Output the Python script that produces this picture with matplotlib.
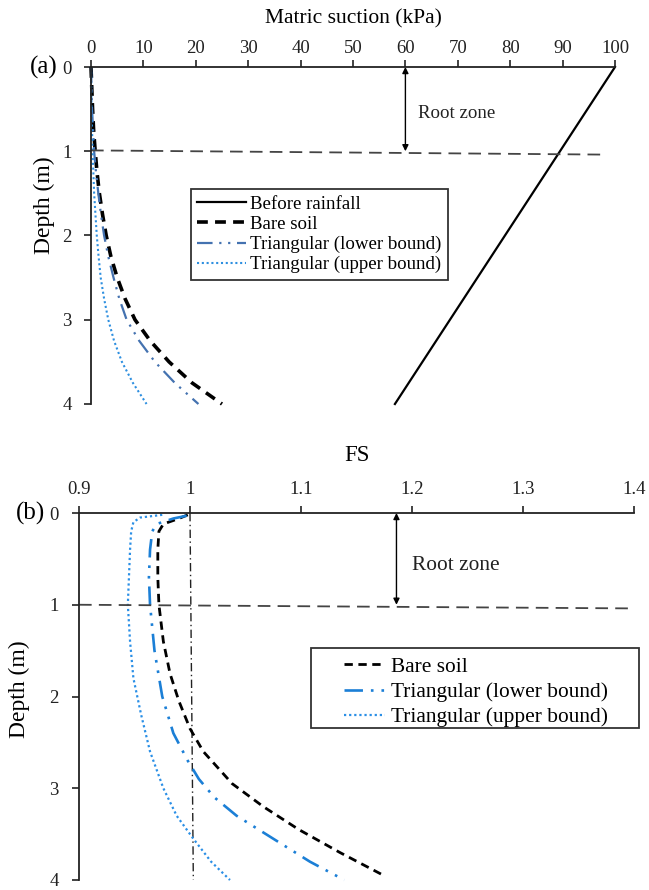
import matplotlib
matplotlib.use("Agg")
import matplotlib.pyplot as plt
from matplotlib.patches import Rectangle

plt.rcParams['font.family'] = ['Liberation Serif', 'DejaVu Serif']

# ---- (a) matric suction profiles ----
depth_a = [0, 0.25, 0.5, 0.75, 1.0, 1.25, 1.5, 1.75, 2.0, 2.25, 2.5, 2.75, 3.0, 3.25, 3.5, 3.75, 4.0]
before_depth = [0, 4]
before_suction = [100, 58]
bare_a = [0, 0.15, 0.3, 0.5, 0.8, 1.15, 1.6, 2.2, 2.9, 3.8, 5.0, 6.5, 8.4, 11.3, 14.9, 19.3, 25.0]
lower_a = [0, 0.1, 0.2, 0.4, 0.6, 0.95, 1.4, 1.9, 2.5, 3.3, 4.3, 5.4, 6.8, 9.2, 12.2, 16.0, 20.5]
upper_a = [0, 0.05, 0.1, 0.2, 0.3, 0.45, 0.6, 0.85, 1.1, 1.45, 1.85, 2.5, 3.3, 4.4, 5.9, 8.0, 10.6]
suction_ticks = [0, 10, 20, 30, 40, 50, 60, 70, 80, 90, 100]

# ---- (b) factor of safety profiles ----
bare_b_depth = [0.02, 0.06, 0.12, 0.2, 0.4, 0.7, 1.0, 1.4, 1.75, 2.05, 2.35, 2.6, 2.95, 3.2, 3.45, 3.7, 3.96]
bare_b = [0.998, 0.99, 0.976, 0.972, 0.971, 0.971, 0.972, 0.976, 0.982, 0.990, 1.0, 1.012, 1.038, 1.066, 1.098, 1.135, 1.176]
lower_b_depth = [0.03, 0.06, 0.12, 0.2, 0.4, 0.7, 1.0, 1.5, 2.0, 2.4, 2.7, 2.9, 3.1, 3.3, 3.55, 3.8, 4.0]
lower_b = [0.997, 0.985, 0.97, 0.966, 0.964, 0.963, 0.964, 0.968, 0.975, 0.985, 0.998, 1.008, 1.022, 1.042, 1.075, 1.108, 1.139]
upper_b_depth = [0.02, 0.05, 0.1, 0.2, 0.4, 0.7, 1.0, 1.4, 1.8, 2.2, 2.6, 3.0, 3.3, 3.55, 3.8, 4.0]
upper_b = [0.975, 0.955, 0.949, 0.947, 0.946, 0.945, 0.944, 0.946, 0.949, 0.956, 0.964, 0.976, 0.988, 1.003, 1.019, 1.036]
fs_ticks = [0.9, 1.0, 1.1, 1.2, 1.3, 1.4]
fs_tick_labels = ['0.9', '1', '1.1', '1.2', '1.3', '1.4']
depth_ticks = [0, 1, 2, 3, 4]

root_depth = 1.0

fig = plt.figure(figsize=(6.49, 8.90), dpi=100)
W, H = 649, 890


def place(l, t, r, b):
    return fig.add_axes([l / W, 1 - b / H, (r - l) / W, (b - t) / H])


def style_axis(ax, xpad, ypad):
    ax.xaxis.tick_top()
    ax.xaxis.set_label_position('top')
    for s in ['right', 'bottom']:
        ax.spines[s].set_visible(False)
    for s in ['top', 'left']:
        ax.spines[s].set_linewidth(1.3)
        ax.spines[s].set_color('#222222')
    ax.tick_params(axis='both', direction='out', length=5, width=1.2,
                   labelsize=13.5, colors='#222222')
    ax.tick_params(axis='x', pad=xpad)
    ax.tick_params(axis='y', pad=ypad)
    ax.set_ylim(4, 0)
    ax.set_yticks(depth_ticks)


# ---------------- panel (a) ----------------
ax1 = place(91, 67, 615, 404)
style_axis(ax1, xpad=2.5, ypad=9)
ax1.set_xlim(0, 100)
ax1.set_xticks(suction_ticks)
ax1.set_xlabel('Matric suction (kPa)', fontsize=15.5, labelpad=11.5)
ax1.set_ylabel('Depth (m)', fontsize=17, va='center')
ax1.yaxis.set_label_coords(-0.088, 0.59)

ax1.plot(before_suction, before_depth, color='black', lw=1.6, label='Before rainfall', clip_on=False)
ax1.plot(bare_a, depth_a, color='black', lw=2.6, dashes=(3.0, 2.0), label='Bare soil', clip_on=False)
ax1.plot(lower_a, depth_a, color='#4472b0', lw=1.6, dashes=(7, 3, 1, 3, 1, 3),
         label='Triangular (lower bound)', clip_on=False)
ax1.plot(upper_a, depth_a, color='#2d8fe0', lw=1.5, dashes=(1, 1.3),
         label='Triangular (upper bound)', clip_on=False)

ax1.plot([0, 98.4], [root_depth - 0.01, root_depth + 0.04], color='#444444', lw=1.3,
         dashes=(7, 4), clip_on=False)
ax1.annotate('', xy=(60, 0), xytext=(60, root_depth),
             arrowprops=dict(arrowstyle='<|-|>', color='black', lw=1.0,
                             mutation_scale=9, shrinkA=0, shrinkB=0))
ax1.text(62.5, 0.55, 'Root zone', fontsize=13.6, va='center', ha='left', color='#222222')
ax1.text(-0.063, 1.0, '(a)', transform=ax1.transAxes, fontsize=18, ha='right', va='center')

leg1 = ax1.legend(loc='upper left', bbox_to_anchor=(0.19, 0.6375), fontsize=13.6,
                  frameon=True, fancybox=False, edgecolor='#333333', framealpha=1,
                  handlelength=2.6, handletextpad=0.2, borderpad=0.35, labelspacing=0.15,
                  borderaxespad=0)
leg1.get_frame().set_linewidth(1.3)

# ---------------- panel (b) ----------------
ax2 = place(79, 513, 634, 880)
style_axis(ax2, xpad=6, ypad=9.5)
ax2.set_xlim(0.9, 1.4)
ax2.set_xticks(fs_ticks)
ax2.set_xticklabels(fs_tick_labels)
ax2.set_xlabel('FS', fontsize=16.5, labelpad=14)
ax2.set_ylabel('Depth (m)', fontsize=17, va='center')
ax2.yaxis.set_label_coords(-0.108, 0.52)

ax2.plot([1.0, 1.003], [0, 4], color='#222222', lw=1.0, dashes=(6, 2.5, 1, 2.5), clip_on=False)
ax2.plot(bare_b, bare_b_depth, color='black', lw=2.0, dashes=(3, 2), label='Bare soil', clip_on=False)
ax2.plot(lower_b, lower_b_depth, color='#1b7fd6', lw=1.9, dashes=(7, 3, 1, 3, 1, 3),
         label='Triangular (lower bound)', clip_on=False)
ax2.plot(upper_b, upper_b_depth, color='#2a8fe6', lw=1.6, dashes=(1, 1.3),
         label='Triangular (upper bound)', clip_on=False)

ax2.plot([0.9, 1.4], [root_depth, root_depth + 0.04], color='#444444', lw=1.3,
         dashes=(7, 4), clip_on=False)
ax2.annotate('', xy=(1.186, 0), xytext=(1.186, root_depth),
             arrowprops=dict(arrowstyle='<|-|>', color='black', lw=1.0,
                             mutation_scale=9, shrinkA=0, shrinkB=0))
ax2.text(1.2, 0.57, 'Root zone', fontsize=15.4, va='center', ha='left', color='#222222')
ax2.text(-0.061, 1.0, '(b)', transform=ax2.transAxes, fontsize=18, ha='right', va='center')

# legend entries with a wide frame drawn around them
leg2 = ax2.legend(loc='upper left', bbox_to_anchor=(0.4775, 0.608), fontsize=15.4,
                  frameon=False, handlelength=1.9, handletextpad=0.3, borderpad=0,
                  labelspacing=0.25, borderaxespad=0)
ax2.add_patch(Rectangle((0.418, 0.413), 0.591, 0.218, transform=ax2.transAxes,
                        fill=False, edgecolor='#333333', lw=1.3, clip_on=False, zorder=5))

fig.savefig('out.png', dpi=100)
